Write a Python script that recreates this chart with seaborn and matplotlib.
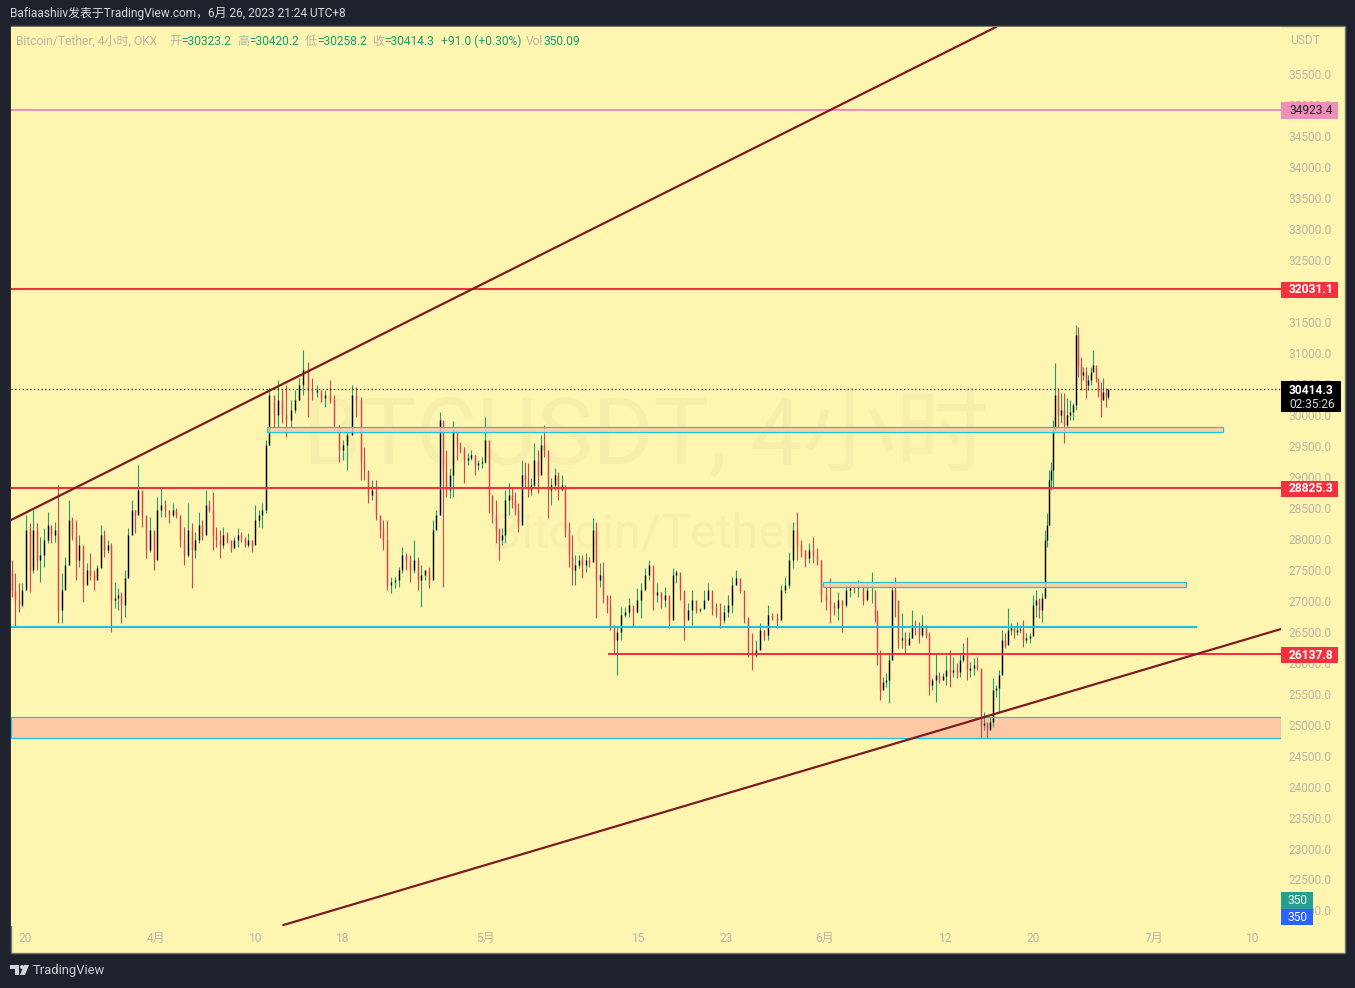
import numpy as np
import pandas as pd
import matplotlib
matplotlib.use("Agg")
import matplotlib.pyplot as plt
from matplotlib.patches import Rectangle, Polygon, Circle
from matplotlib.transforms import Affine2D
import seaborn as sns

high_a = [27659,27450,27288,27288,28386,28257,28467,28257,28030,28176,
 28434,28192,28273,28870,27450,27707,28628,28353,28305,28063,
 27821,27610,27772,27498,27578,28224,28144,27982,27933,27304,
 27207,27143,27498,28176,28628,28467,29193,28757,28305,28353,
 28030,28676,28822,28628,28467,28580,28499,28353,28192,28580,
 28257,28111,28434,28305,28790,28628,28757,28192,28144,28192,
 28111,27982,28030,28176,28111,28030,28095,27982,28547,28467,
 28580,29597,30437,30195,30566,30404,30485,30243,30404,30598,
 31050,30857,30598,30485,30372,30404,30566,30324,29758,29597,
 29791,30485,30453,30292,29484,29080,28951,28951,28353,28305,
 28305,27385,27385,27546,27869,27772,27740,27982,27707,27578,
 27498,27546,28305,28467,30049,29888]
low_a = [27061,26577,26819,26900,27450,27143,27450,27498,27304,27546,
 27933,27933,27950,26642,26642,27288,27772,27982,27336,27546,
 26981,27368,27336,27175,27465,27659,27707,27772,26496,26884,
 26852,26642,26738,27368,28192,28095,28467,28192,27691,27788,
 27498,27901,28353,28353,28257,28353,28337,27869,27578,27707,
 27207,27691,27933,27982,28095,28434,27821,27869,27691,27853,
 27933,27788,27853,27869,27950,27869,27869,27788,28030,28192,
 28176,28418,29516,29807,29807,29872,29645,29791,30033,30243,
 30324,29968,30243,30292,30211,30130,30195,29758,29242,29274,
 29113,29758,29968,28951,28951,28580,28628,28305,28014,27821,
 27175,27126,27207,27223,27450,27498,27304,27450,27175,26900,
 27336,27207,27610,28273,28386,27223]
close_a = [27175,27013,26932,27175,28144,27498,28144,27659,27740,27982,
 28224,28063,28144,26852,27175,27578,28305,28063,27659,27901,
 27255,27498,27417,27336,27530,28063,27821,27901,27013,27045,
 27094,26932,27368,28063,28467,28386,28790,28386,27821,28144,
 27659,28467,28547,28467,28386,28467,28386,27982,27740,28144,
 27821,27982,28224,28063,28547,28467,28063,27982,27901,28063,
 27982,27853,27982,28063,28014,27901,27982,27901,28305,28386,
 28467,29516,30324,30001,30243,30001,29920,30081,30243,30485,
 30727,30404,30372,30404,30275,30324,30243,29839,29436,29516,
 29678,30324,30243,29274,29113,28709,28790,28386,28144,27982,
 27255,27304,27336,27498,27740,27659,27498,27659,27336,27417,
 27498,27336,28144,28386,29920,29113]

high_b = [29436,29145,29904,29726,29565,29484,29387,29436,29355,29274,
 29322,29968,29484,28709,28628,28176,28176,28790,28903,28838,
 28757,28580,29274,29242,29226,28983,29548,29436,29678,29839,
 29274,28983,29145,29080,29032,28790,28273,28063,27740,27740,
 27740,27772,27707,28337,28273,27610,27627,27061,27094,26577,
 26577,26900,26900,27045,26884,27207,27288,27530,27659,27336,
 27288,27143,27223,26900,27530,27498,27449,27126,26965,27175,
 26900,26884,27175,27288,27013,26965,26965,26932,27094,27385,
 27498,27336,26852,26738,26480,26367,26642,26529,26932,26803,
 26803,27255,27385,27788,28273,28434,27982,27821,27933,28030,
 27853,27659,27223,27368,26981,27143,27013,27255,27304,27255,
 27336,27126,27288]
low_b = [28676,28660,28676,29274,29387,28903,29193,29274,29032,29113,
 29145,29226,28418,28257,27933,27659,27901,27933,28386,28499,
 28386,28111,28257,28822,28676,28709,28822,28741,29242,29322,
 28337,28547,28790,28628,28790,28030,27546,27255,27255,27530,
 27368,27465,27546,27659,26722,27223,26965,26803,26529,26157,
 25802,26367,26738,26738,26577,26803,26722,27207,27336,26852,
 26981,26884,26900,26561,27143,27288,27013,26367,26738,26609,
 26803,26819,26900,27061,26771,26738,26561,26642,26738,26803,
 27255,27126,26642,26093,25883,26093,26206,26367,26367,26690,
 26561,26738,27126,27207,27530,27659,27707,27546,27610,27610,
 27578,26981,26852,26642,26771,26690,26496,26900,27061,27126,
 27061,26932,27061]
close_b = [28790,29032,29758,29516,29436,29274,29306,29355,29193,29226,
 29242,29597,28709,28386,28144,27982,28063,28628,28709,28628,
 28467,28224,29032,28951,28790,28870,29274,29032,29516,29436,
 28790,28870,29032,28790,28870,28144,27740,27498,27578,27659,
 27578,27659,27627,28144,27336,27417,27094,26932,26609,26367,
 26496,26771,26819,26932,26819,27013,27175,27417,27578,27094,
 27143,27013,27094,26690,27417,27465,27175,26690,26852,27013,
 26852,26868,27013,27175,26884,26819,26690,26819,26932,27255,
 27368,27175,26722,26206,26126,26206,26529,26448,26771,26722,
 26690,27175,27255,27659,28144,27901,27821,27691,27821,27740,
 27659,27094,27013,26932,26884,27013,26932,27175,27223,27207,
 27255,27013,27175]

high_c = [27465,26884,26852,26093,25769,25834,26157,27255,27385,26965,
 26803,26496,26496,26852,26690,26658,26771,26529,26496,25753,
 26157,25850,25834,26125,26206,26093,25995,26157,26318,26415,
 26012,26076,26093,25883,25204,25043,25123,25753,25640,25883,
 26529,26480,26884,26642,26577,26658,26609,26690,26480,26480,
 27094,27175,27045,27126,28144,28418,29113,29242,29920,30840,
 30437,30356,30356,30275,30243,30195,31454,31422,30937,30776,
 30776,30647,30776,31050,30760,30566,30534,30598,30437,30420]
low_c = [26965,26658,25963,25398,25592,25608,25350,26044,26738,26238,
 26238,26157,26286,26399,26448,26318,26415,26399,25479,25560,
 25366,25673,25721,25640,25608,25769,25753,25769,26012,25721,
 25769,25802,25883,24784,24914,24784,24946,24962,25447,25188,
 25834,26238,26318,26448,26399,26448,26480,26254,26318,26318,
 26529,26738,26722,26658,27045,27869,28224,28790,28838,29758,
 29807,29872,29548,29807,29920,29920,30081,30615,30404,30566,
 30275,30404,30485,30727,30534,30292,29968,30275,30130,30258]
close_c = [27175,26771,26206,25560,25689,25721,26044,27175,27013,26367,
 26399,26286,26399,26609,26561,26448,26609,26448,25640,25721,
 25802,25721,25786,25883,25850,25883,25850,26044,26125,25883,
 25915,25963,25915,24994,25026,24914,25043,25560,25592,25802,
 26367,26286,26529,26561,26496,26529,26545,26367,26399,26431,
 26932,27013,26852,27045,27982,28224,28951,29113,29758,30324,
 30001,30081,29839,30001,30049,30162,31293,30808,30647,30695,
 30485,30566,30695,30808,30598,30372,30243,30372,30292,30414]

# days after 20 March at which landmark bars of the series were read
landmark_bars = [0, 13, 28, 36, 50, 72, 80, 93, 114, 115,
                 116, 128, 144, 160, 166, 185, 200, 211, 228,
                 229, 236, 247, 262, 269, 283, 288, 295, 308]
landmark_days = [-1.21, 3.04, 7.87, 10.34, 15.21, 22.29, 25.39, 30.63, 37.89, 38.14,
                 38.41, 42.34, 47.08, 52.10, 54.04, 60.88, 66.36, 70.41, 76.80,
                 77.25, 79.08, 82.48, 87.20, 89.11, 93.07, 94.01, 95.87, 98.83]

first_open = 27500
price_ticks = np.arange(22000, 36000, 500)
time_tick_dates = ["2023-03-20", "2023-04-01", "2023-04-10", "2023-04-18", "2023-05-01", "2023-05-15",
                   "2023-05-23", "2023-06-01", "2023-06-12", "2023-06-20", "2023-07-01", "2023-07-10"]
time_tick_labels = ["20", "4月", "10", "18", "5月", "15", "23", "6月", "12", "20", "7月", "10"]

W, H = 1355, 988
BG, PANE = "#1e222d", "#fef5b1"
UP_WICK, DOWN = "#1f9d73", "#d5444c"
RED, CYAN, PINK, BROWN, PEACH = "#f2323f", "#1cc3dd", "#ee8fb8", "#7f1a20", "#fdc9a5"
GREY = "#b9b6a8"
GREEN_TXT = "#1f9d73"
FONT = ["Roboto", "Noto Sans CJK SC", "DejaVu Sans"]

sns.set_theme(style="white")
plt.rcParams["font.family"] = FONT

highs = high_a + high_b + high_c
bar_ids = np.arange(len(highs))
days = np.interp(bar_ids, landmark_bars, landmark_days)
bars = pd.DataFrame({
    "t": pd.Timestamp("2023-03-20") + pd.to_timedelta(days, unit="D"),
    "high": highs,
    "low": low_a + low_b + low_c,
    "close": close_a + close_b + close_c,
})
bars["open"] = bars["close"].shift(1).fillna(first_open)
bars["dir"] = np.where(bars["close"] >= bars["open"], "up", "down")
bars["bar"] = bar_ids
wicks = bars.melt(id_vars=["t", "bar", "dir"], value_vars=["high", "low"], value_name="price")
bodies = bars.melt(id_vars=["t", "bar", "dir"], value_vars=["open", "close"], value_name="price")

fig = plt.figure(figsize=(W / 100, H / 100), dpi=100, facecolor=BG)
px = Affine2D().scale(1 / W, -1 / H).translate(0, 1) + fig.transFigure


def T(x, y, s, **kw):
    kw.setdefault("va", "center")
    kw.setdefault("color", GREY)
    kw.setdefault("fontsize", 8.64)
    return fig.text(x / W, 1 - y / H, s, **kw)


def R(x0, y0, x1, y1, color, z=2, **kw):
    fig.add_artist(Rectangle((x0, y0), x1 - x0, y1 - y0, transform=px, facecolor=color,
                             edgecolor=kw.pop("edge", "none"), lw=kw.pop("lw", 0), zorder=z))


R(10.5, 26.5, 1344.5, 952.5, PANE, z=-1, edge="#77786a", lw=1)

ax = fig.add_axes([11 / W, 1 - 926 / H, 1270 / W, 899 / H], facecolor=PANE)
for s in ax.spines.values():
    s.set_visible(False)

ax.text(0.5, 0.544, "BTCUSDT, 4小时", transform=ax.transAxes, fontsize=67, color="#f7eeac",
        ha="center", va="center", zorder=0)
ax.text(0.5, 0.436, "Bitcoin/Tether", transform=ax.transAxes, fontsize=35, color="#f7eeac",
        ha="center", va="center", zorder=0)

sns.lineplot(data=wicks, x="t", y="price", units="bar", estimator=None, hue="dir", sort=False,
             palette={"up": UP_WICK, "down": DOWN}, linewidth=0.8, legend=False, ax=ax,
             solid_capstyle="butt", zorder=2)
sns.lineplot(data=bodies, x="t", y="price", units="bar", estimator=None, hue="dir", sort=False,
             palette={"up": "#000000", "down": DOWN}, linewidth=1.0, legend=False, ax=ax,
             solid_capstyle="butt", zorder=3)

xmin, xmax = pd.Timestamp("2023-03-18 17:20"), pd.Timestamp("2023-07-12 14:24")
ax.set_xlim(xmin, xmax)
ax.set_ylim(21749, 36267)

# drawings above the candles
ax.axhline(30414.3, color="#111111", lw=0.9, ls=(0, (1, 2)), zorder=4)
ax.axhline(34923.4, color=PINK, lw=1.4, zorder=5)
ax.axhline(32031.1, color=RED, lw=1.5, zorder=5)
ax.axhline(28825.3, color=RED, lw=1.5, zorder=5)
ax.hlines(26137.8, pd.Timestamp("2023-05-12 05:00"), xmax, color=RED, lw=1.5, zorder=5)
ax.hlines(26577, xmin, pd.Timestamp("2023-07-04 22:00"), color=CYAN, lw=1.5, zorder=5)


def zone(t0, t1, p0, p1, z, alpha):
    ax.fill_between([t0, t1], p0, p1, color=PEACH, lw=0, zorder=z, alpha=alpha)
    ax.hlines([p0, p1], t0, t1, color=CYAN, lw=0.85, zorder=5)
    ax.vlines([t0, t1], p0, p1, color=CYAN, lw=0.85, zorder=5)


zone(xmin, xmax, 24784, 25131, 1, 1.0)
zone(pd.Timestamp("2023-04-11 01:00"), pd.Timestamp("2023-07-07 08:00"), 29734, 29815, 4, 0.85)
zone(pd.Timestamp("2023-05-31 20:00"), pd.Timestamp("2023-07-03 22:00"), 27231, 27304, 4, 0.85)

ax.plot([xmin, pd.Timestamp("2023-06-16 14:24")], [28305, 36267], color=BROWN, lw=1.6, zorder=6)
ax.plot([pd.Timestamp("2023-04-12 13:30"), xmax], [21764, 26545], color=BROWN, lw=1.6, zorder=6)

ax.yaxis.tick_right()
ax.set_yticks(price_ticks)
ax.set_yticklabels([f"{v:.1f}" for v in price_ticks])
ax.set_xticks(pd.to_datetime(time_tick_dates))
ax.set_xticklabels(time_tick_labels)
ax.tick_params(axis="y", length=0, pad=5.5, labelsize=8.64, labelcolor=GREY)
ax.tick_params(axis="x", length=0, pad=4.5, labelsize=8.64, labelcolor=GREY)
ax.set_xlabel("")
ax.set_ylabel("")

# header, legend
T(10, 14, "Bafiaashiiv发表于TradingView.com，6月 26, 2023 21:24 UTC+8", color="#d6d8df", fontsize=8.6)
T(16, 41.5, "Bitcoin/Tether, 4小时, OKX")
for lx, label, vx, val in [(169, "开", 181, "=30323.2"), (237, "高", 249, "=30420.2"),
                           (305, "低", 317, "=30258.2"), (372, "收", 384, "=30414.3")]:
    T(lx, 41.5, label)
    T(vx, 41.5, val, color=GREEN_TXT)
T(441, 41.5, "+91.0 (+0.30%)", color=GREEN_TXT)
T(526, 41.5, "Vol")
T(543, 41.5, "350.09", color=GREEN_TXT)
T(1305, 41, "USDT", ha="center")

# price tags
R(1281, 102, 1338, 119, PINK)
T(1289, 110.5, "34923.4", color="#1e222d")
for tag, y in [("32031.1", 289.5), ("28825.3", 489), ("26137.8", 655)]:
    R(1281, y - 8, 1338, y + 8, RED)
    T(1289, y, tag, color="white", fontweight="bold")
R(1281, 381, 1341, 412, "#000000")
T(1289, 390, "30414.3", color="white", fontweight="bold")
T(1289, 404, "02:35:26", color="#d6d8df")
R(1281, 892, 1313, 909, "#26a08e")
T(1297, 900.5, "350", color="white", ha="center")
R(1281, 909, 1313, 925, "#2962ff")
T(1297, 917.5, "350", color="white", ha="center")

# footer logo and name
logo = "#d1d4dc"
fig.add_artist(Rectangle((10, 965), 9, 4, transform=px, fc=logo, ec="none"))
fig.add_artist(Rectangle((15, 965), 4, 10, transform=px, fc=logo, ec="none"))
fig.add_artist(Circle((22, 967), 2, transform=px, fc=logo, ec="none"))
fig.add_artist(Polygon([(24, 965), (29, 965), (25, 975), (20, 975)], transform=px, fc=logo, ec="none"))
T(33, 970, "TradingView", color="#d1d4dc", fontsize=9.4)

fig.savefig("out.png", dpi=100, facecolor=BG)
